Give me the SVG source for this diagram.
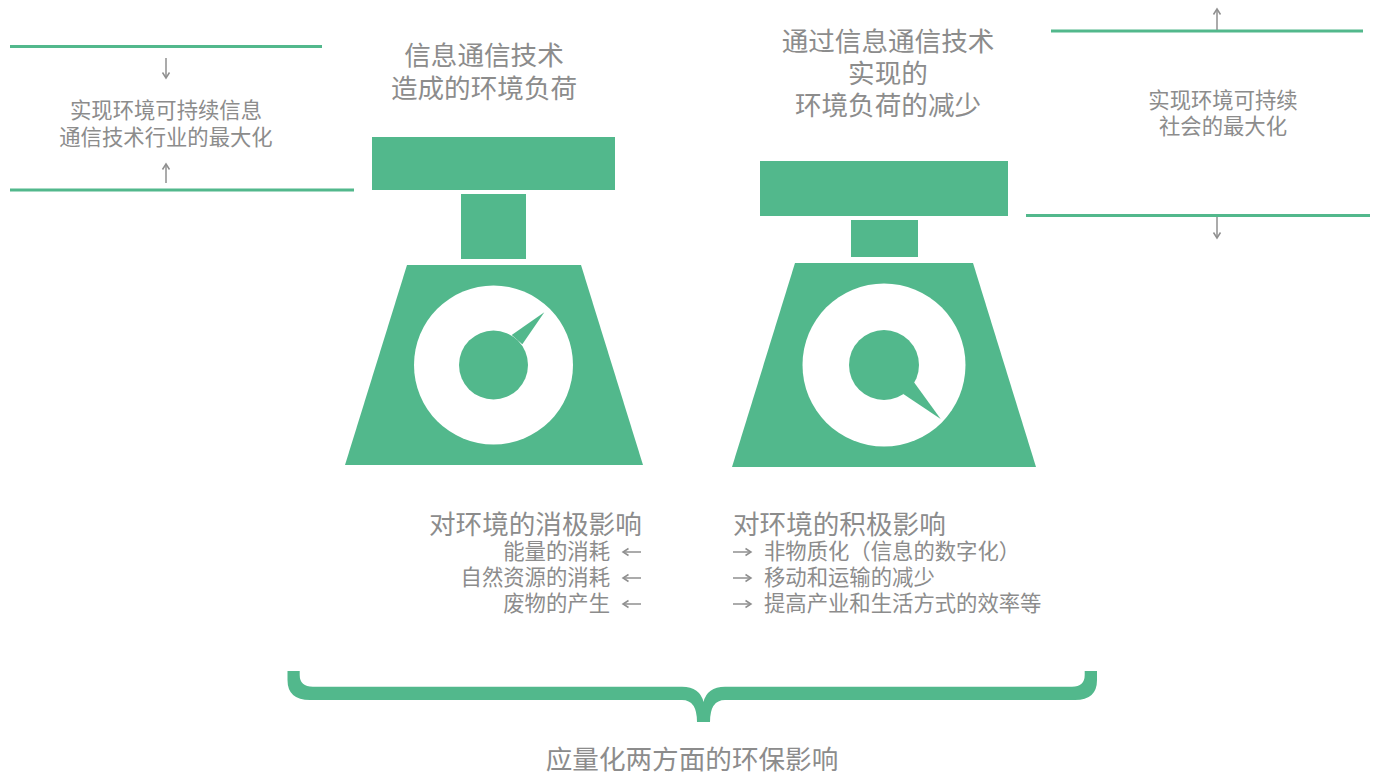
<svg xmlns="http://www.w3.org/2000/svg" width="1375" height="774" viewBox="0 0 1375 774">
<style>
text{font-family:"Noto Sans CJK SC","Noto Sans",sans-serif;fill:#8c8c8c}
.l{font-size:26.6px}.s{font-size:21.35px}.m{text-anchor:middle}.e{text-anchor:end}
.g{fill:#52b88c}.w{fill:#fff}
.rule{stroke:#52b88c;stroke-width:3;fill:none}
.arr{stroke:#8f8f8f;stroke-width:1.5;fill:none;marker-end:url(#a)}
</style>
<defs><marker id="a" markerUnits="userSpaceOnUse" markerWidth="12" markerHeight="12" refX="9" refY="6" orient="auto"><path d="M3.500 2.500L9 6L3.500 9.500" fill="none" stroke="#8f8f8f" stroke-width="1.500"/></marker></defs>
<rect width="1375" height="774" fill="#fff"/>
<g id="connectors">
<path class="rule" d="M10 46.500H322"/><path class="rule" d="M10 190H354"/><path class="rule" d="M1051 31H1363"/><path class="rule" d="M1026 215.500H1370"/>
<path class="arr" d="M166 58V78"/><path class="arr" d="M166 183V164"/><path class="arr" d="M1217 30V9"/><path class="arr" d="M1217 217V238"/>
<path class="arr" d="M641 552H623"/><path class="arr" d="M641 578H623"/><path class="arr" d="M641 604H623"/>
<path class="arr" d="M733 552H751"/><path class="arr" d="M733 578H751"/><path class="arr" d="M733 604H751"/>
</g>
<g id="scale-left">
<rect class="g" x="372" y="137" width="243" height="53"/><rect class="g" x="461" y="194" width="65" height="65"/>
<path class="g" d="M407 265H581L643 465H345Z"/><circle class="w" cx="493.500" cy="365" r="79.500"/>
<circle class="g" cx="493.500" cy="365" r="34.500"/><path class="g" d="M511.700 335L544.300 312.300L522.300 344.300Z"/>
</g>
<g id="scale-right">
<rect class="g" x="760" y="161" width="248" height="55"/><rect class="g" x="851" y="220" width="67" height="37"/>
<path class="g" d="M795 263H973L1036 467H732Z"/><circle class="w" cx="884" cy="365" r="81.500"/>
<circle class="g" cx="884" cy="365" r="35"/><path class="g" d="M903.300 394L940.700 419L914 382.300Z"/>
</g>
<g id="brace"><path class="g" d="M287.500 671H299.700V675Q299.700 686.700 313 686.700H682Q700 687 703.500 702Q707 687 725 686.700H1072Q1084.700 686.700 1084.700 675V671H1097V680Q1097 700 1075 700H725Q710 700 710 722H697Q697 700 682 700H310Q287.500 700 287.500 680Z"/></g>
<g id="title-left"><text class="l m" x="484" y="65">信息通信技术</text><text class="l m" x="484" y="98">造成的环境负荷</text></g>
<g id="title-right"><text class="l m" x="888" y="51">通过信息通信技术</text><text class="l m" x="888" y="83">实现的</text><text class="l m" x="888" y="115">环境负荷的减少</text></g>
<g id="goal-left"><text class="s m" x="166" y="118">实现环境可持续信息</text><text class="s m" x="166" y="145">通信技术行业的最大化</text></g>
<g id="goal-right"><text class="s m" x="1223" y="108">实现环境可持续</text><text class="s m" x="1223" y="134">社会的最大化</text></g>
<g id="negative"><text class="l" x="429" y="534">对环境的消极影响</text>
<text class="s e" x="610" y="559">能量的消耗</text><text class="s e" x="610" y="585">自然资源的消耗</text><text class="s e" x="610" y="611">废物的产生</text></g>
<g id="positive"><text class="l" x="733" y="534">对环境的积极影响</text>
<text class="s" x="764" y="559">非物质化（信息的数字化）</text><text class="s" x="764" y="585">移动和运输的减少</text><text class="s" x="764" y="611">提高产业和生活方式的效率等</text></g>
<g id="summary"><text class="l m" x="692" y="769">应量化两方面的环保影响</text></g>
</svg>
